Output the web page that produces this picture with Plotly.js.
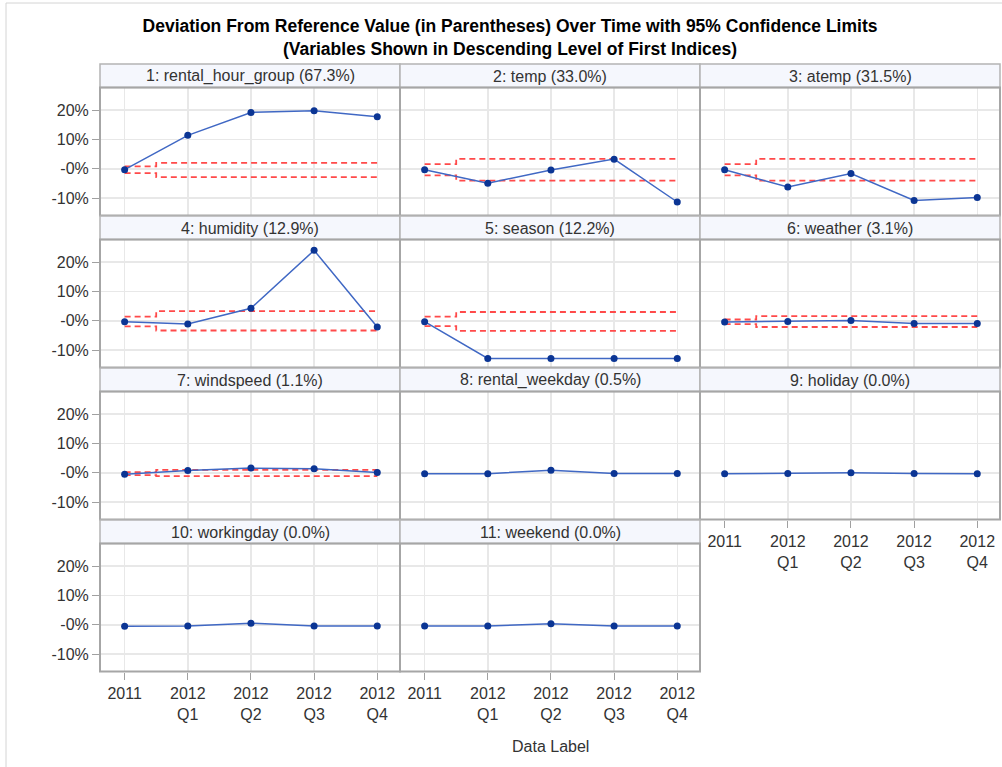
<!DOCTYPE html>
<html>
<head>
<meta charset="utf-8">
<script src="https://cdn.plot.ly/plotly-3.0.1.min.js"></script>
<style>html,body{margin:0;padding:0;background:#fff;}#chart{width:1002px;height:767px;}</style>
</head>
<body>
<div id="chart"></div>
<script>
// ---------------- data ----------------
const categories = ['2011', '2012<br>Q1', '2012<br>Q2', '2012<br>Q3', '2012<br>Q4'];
const variables = ['rental_hour_group', 'temp', 'atemp', 'humidity', 'season', 'weather',
                   'windspeed', 'rental_weekday', 'holiday', 'workingday', 'weekend'];
const firstIndexPct = ['67.3', '33.0', '31.5', '12.9', '12.2', '3.1', '1.1', '0.5', '0.0', '0.0', '0.0'];

const devRentalHourGroup = [-0.3, 11.4, 19.2, 19.8, 17.7];
const devTemp            = [-0.3, -4.9, -0.4, 3.3, -11.3];
const devAtemp           = [-0.3, -6.2, -1.6, -10.8, -9.8];
const devHumidity        = [-0.3, -1.1, 4.3, 24.0, -2.1];
const devSeason          = [-0.3, -12.8, -12.8, -12.8, -12.8];
const devWeather         = [-0.4, -0.2, 0.1, -0.9, -0.9];
const devWindspeed       = [-0.45, 0.8, 1.6, 1.4, 0.1];
const devRentalWeekday   = [-0.3, -0.3, 0.9, -0.2, -0.2];
const devHoliday         = [-0.3, -0.2, 0.0, -0.2, -0.3];
const devWorkingday      = [-0.45, -0.4, 0.55, -0.4, -0.4];
const devWeekend         = [-0.4, -0.4, 0.4, -0.4, -0.4];

const upperRentalHourGroup = [0.8, 2.0, 2.0, 2.0, 2.0];
const lowerRentalHourGroup = [-1.5, -2.8, -2.8, -2.8, -2.8];
const upperTemp     = [1.6, 3.4, 3.4, 3.4, 3.4];
const lowerTemp     = [-2.2, -4.0, -4.0, -4.0, -4.0];
const upperAtemp    = [1.6, 3.4, 3.4, 3.4, 3.4];
const lowerAtemp    = [-2.2, -4.0, -4.0, -4.0, -4.0];
const upperHumidity = [1.4, 3.3, 3.3, 3.3, 3.3];
const lowerHumidity = [-1.9, -3.3, -3.3, -3.3, -3.3];
const upperSeason   = [1.4, 3.0, 3.0, 3.0, 3.0];
const lowerSeason   = [-1.8, -3.4, -3.4, -3.4, -3.4];
const upperWeather  = [0.45, 1.6, 1.6, 1.6, 1.6];
const lowerWeather  = [-1.1, -2.1, -2.1, -2.1, -2.1];
const upperWindspeed = [0.2, 1.0, 1.0, 1.0, 1.0];
const lowerWindspeed = [-0.8, -1.1, -1.1, -1.1, -1.1];

const yTickVals = [-10, 0, 10, 20];
const yTickText = ['-10%', '-0%', '10%', '20%'];

const deviations = [devRentalHourGroup, devTemp, devAtemp, devHumidity, devSeason, devWeather,
                    devWindspeed, devRentalWeekday, devHoliday, devWorkingday, devWeekend];
const uppers = [upperRentalHourGroup, upperTemp, upperAtemp, upperHumidity, upperSeason, upperWeather,
                upperWindspeed, null, null, null, null];
const lowers = [lowerRentalHourGroup, lowerTemp, lowerAtemp, lowerHumidity, lowerSeason, lowerWeather,
                lowerWindspeed, null, null, null, null];

// ---------------- layout helpers ----------------
const W = 1002, H = 767;
const px = v => v / W;
const py = v => 1 - v / H;
const colLeft = [100, 400, 700];
const colWidth = 300;
const rowPlotTop = r => 87.5 + 152 * r;
const plotH = 128;
const headerH = 23.5;

const FONT = 'Liberation Sans, Arial, sans-serif';
const traces = [];
const layout = {
  width: W, height: H,
  margin: {l: 0, r: 0, t: 0, b: 0},
  paper_bgcolor: '#ffffff', plot_bgcolor: '#ffffff',
  showlegend: false, hovermode: false,
  font: {family: FONT, size: 16, color: '#333333'},
  title: {
    text: 'Deviation From Reference Value (in Parentheses) Over Time with 95% Confidence Limits<br>(Variables Shown in Descending Level of First Indices)',
    x: 510 / W, xanchor: 'center', y: 1 - 32 / H, yanchor: 'middle',
    font: {family: FONT, size: 17.5, color: '#000000', weight: 'bold'}
  },
  shapes: [], annotations: []
};

// outer frame
layout.shapes.push({type: 'rect', xref: 'paper', yref: 'paper', x0: px(6), x1: px(1012), y0: py(3), y1: py(780),
  line: {color: '#d4d4d4', width: 1}, fillcolor: 'rgba(0,0,0,0)', layer: 'below'});

variables.forEach((v, i) => {
  const r = Math.floor(i / 3), c = i % 3;
  const n = i + 1;
  const xa = 'xaxis' + (n === 1 ? '' : n), ya = 'yaxis' + (n === 1 ? '' : n);
  const xr = 'x' + (n === 1 ? '' : n), yr = 'y' + (n === 1 ? '' : n);
  const top = rowPlotTop(r), bot = top + plotH;
  const L = colLeft[c], R = L + colWidth;
  const showX = (i >= 8);  // bottom panel of each column
  const showY = (c === 0);

  layout[xa] = {
    domain: [px(L), px(R)], anchor: yr, type: 'category',
    categoryorder: 'array', categoryarray: categories,
    range: [-0.39, 4.36], showgrid: true, gridcolor: '#e8e8e8', gridwidth: 1.5,
    showline: false, zeroline: false,
    showticklabels: showX, ticks: showX ? 'outside' : '', ticklen: 7, tickcolor: '#a0a0a0', tickwidth: 1,
    tickfont: {family: FONT, size: 16, color: '#333333'}, fixedrange: true
  };
  layout[ya] = {
    domain: [py(bot), py(top)], anchor: xr,
    range: [-15.9, 27.7], tickvals: yTickVals, ticktext: yTickText,
    showgrid: true, gridcolor: '#e8e8e8', gridwidth: 1.5,
    showline: false, zeroline: false,
    showticklabels: showY, ticks: showY ? 'outside' : '', ticklen: 7, tickcolor: '#a0a0a0', tickwidth: 1,
    tickfont: {family: FONT, size: 16, color: '#333333'}, fixedrange: true
  };

  // confidence limits (step lines)
  if (uppers[i]) {
    [uppers[i], lowers[i]].forEach(arr => {
      traces.push({type: 'scatter', mode: 'lines', x: categories, y: arr, xaxis: xr, yaxis: yr,
        line: {color: '#ff4a4a', width: 1.8, dash: '6px,4px', shape: 'hvh'}, hoverinfo: 'skip'});
    });
  }
  // deviation series
  traces.push({type: 'scatter', mode: 'lines+markers', x: categories, y: deviations[i], xaxis: xr, yaxis: yr,
    line: {color: '#4068c4', width: 1.5}, marker: {color: '#0b3594', size: 7}, hoverinfo: 'skip'});

  // header strip
  layout.shapes.push({type: 'rect', xref: 'paper', yref: 'paper', x0: px(L), x1: px(R), y0: py(top), y1: py(top - headerH),
    line: {color: '#b4b4b4', width: 1.5}, fillcolor: '#f5f7fd', layer: 'above'});
  // plot frame
  layout.shapes.push({type: 'rect', xref: 'paper', yref: 'paper', x0: px(L), x1: px(R), y0: py(bot), y1: py(top),
    line: {color: '#a6a6a6', width: 2}, fillcolor: 'rgba(0,0,0,0)', layer: 'above'});
  layout.annotations.push({xref: 'paper', yref: 'paper', x: px((L + R) / 2), y: py(top - headerH / 2 + 0.5),
    xanchor: 'center', yanchor: 'middle', showarrow: false,
    text: n + ': ' + v + ' (' + firstIndexPct[i] + '%)', font: {family: FONT, size: 16, color: '#333333'}});
});

layout.annotations.push({xref: 'paper', yref: 'paper', x: px(550), y: py(746), xanchor: 'center', yanchor: 'middle',
  showarrow: false, text: 'Data Label', font: {family: FONT, size: 16, color: '#333333'}});

Plotly.newPlot('chart', traces, layout, {displayModeBar: false, staticPlot: true});
</script>
</body>
</html>
